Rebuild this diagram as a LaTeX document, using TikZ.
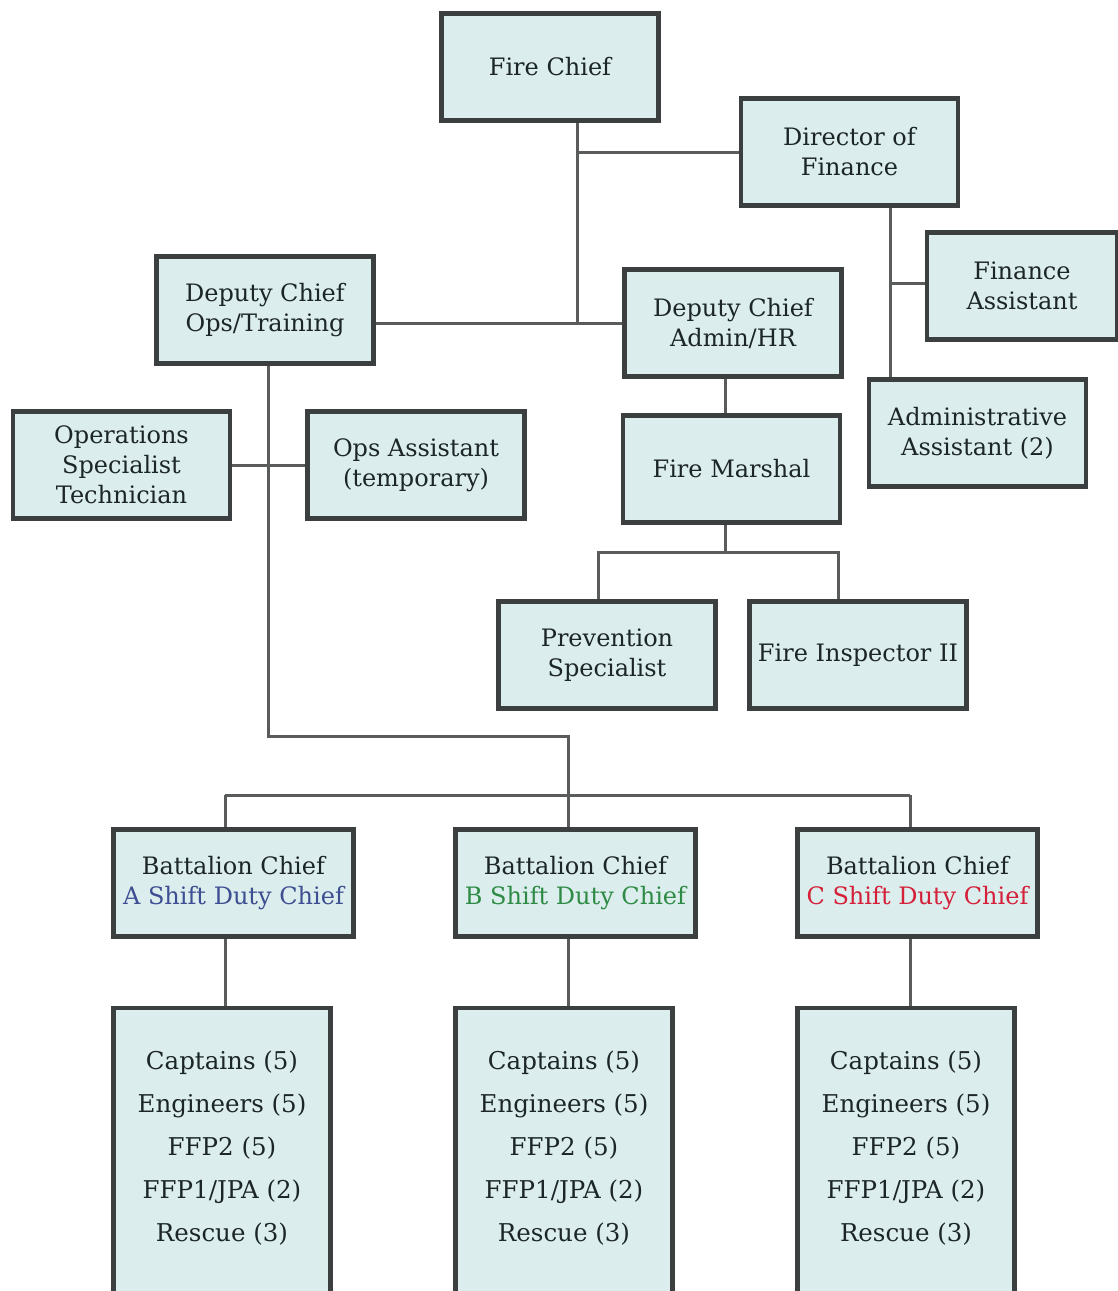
\documentclass[tikz,border=0pt]{standalone}
\usepackage{fontspec}
\setmainfont{DejaVu Serif}
\usetikzlibrary{backgrounds}
\definecolor{boxfill}{HTML}{DCEDED}
\definecolor{boxline}{HTML}{3C3F3F}
\definecolor{conn}{HTML}{5A5C5C}
\definecolor{txt}{HTML}{1C2626}
\definecolor{ablue}{HTML}{3E4E92}
\definecolor{bgreen}{HTML}{2E8B45}
\definecolor{cred}{HTML}{D42038}
\tikzset{
  orgbox/.style={draw=boxline, line width=4.5pt, fill=boxfill, text=txt,
    minimum width=217pt, minimum height=107pt, inner sep=2pt, align=center,
    font=\fontsize{24}{30}\selectfont},
  batbox/.style={orgbox, minimum width=240pt},
  crewbox/.style={orgbox, minimum height=300pt, font=\fontsize{24.5}{43}\selectfont},
  link/.style={draw=conn, line width=3pt}
}
\begin{document}
\begin{tikzpicture}[x=1pt,y=-1pt]
\useasboundingbox (0,0) rectangle (1118,1291);
\node[orgbox] (fc) at (550,67) {Fire Chief};
\node[orgbox] (dof) at (849.5,152) {Director of\\Finance};
\node[orgbox, minimum width=190pt] (fa) at (1022,286) {Finance\\Assistant};
\node[orgbox] (opst) at (265,310) {Deputy Chief\\Ops/Training};
\node[orgbox] (admin) at (733,323) {Deputy Chief\\Admin/HR};
\node[orgbox] (aa) at (977.5,433) {Administrative\\Assistant (2)};
\node[orgbox] (ost) at (121.5,465) {Operations\\Specialist\\Technician};
\node[orgbox] (oa) at (416,465) {Ops Assistant\\(temporary)};
\node[orgbox] (fm) at (731.5,469) {Fire Marshal};
\node[orgbox] (ps) at (607,655) {Prevention\\Specialist};
\node[orgbox] (fi) at (858,655) {Fire Inspector II};
\node[batbox] (ba) at (233.5,883) {Battalion Chief\\\textcolor{ablue}{A Shift Duty Chief}};
\node[batbox] (bb) at (575.5,883) {Battalion Chief\\\textcolor{bgreen}{B Shift Duty Chief}};
\node[batbox] (bc) at (917.5,883) {Battalion Chief\\\textcolor{cred}{C Shift Duty Chief}};
\node[crewbox] (ca) at (222,1158) {\parbox{210pt}{\centering Captains (5)\\Engineers (5)\\FFP2 (5)\\FFP1/JPA (2)\\Rescue (3)\par\vspace*{20pt}}};
\node[crewbox] (cb) at (564,1158) {\parbox{210pt}{\centering Captains (5)\\Engineers (5)\\FFP2 (5)\\FFP1/JPA (2)\\Rescue (3)\par\vspace*{20pt}}};
\node[crewbox] (cc) at (906,1158) {\parbox{210pt}{\centering Captains (5)\\Engineers (5)\\FFP2 (5)\\FFP1/JPA (2)\\Rescue (3)\par\vspace*{20pt}}};
\coordinate (j1) at (577,323);
\coordinate (j2) at (890,283);
\coordinate (j3) at (725,552);
\coordinate (j4) at (598,552);
\coordinate (j5) at (838,552);
\coordinate (j6) at (268,736);
\coordinate (j7) at (568,736);
\coordinate (j9) at (225,795);
\coordinate (j10) at (910,795);
\begin{scope}[on background layer]
\fill[white] (0,0) rectangle (1118,1291);
\draw[link] (fc.south -| j1) -- (j1);
\draw[link] (dof.west -| j1) -- (dof.west);
\draw[link] (opst.east |- j1) -- (admin.west |- j1);
\draw[link] (dof.south -| j2) -- (aa.north -| j2);
\draw[link] (j2) -- (fa.west |- j2);
\draw[link] (admin.south -| j3) -- (fm.north -| j3);
\draw[link] (fm.south -| j3) -- (j3);
\draw[link] (ps.north -| j4) -- (j4) -- (j5) -- (fi.north -| j5);
\draw[link] (opst.south -| j6) -- (j6) -- (j7) -- (bb.north -| j7);
\draw[link] (ost.east) -- (oa.west);
\draw[link] (j9) -- (j10);
\draw[link] (j9) -- (ba.north -| j9);
\draw[link] (j10) -- (bc.north -| j10);
\draw[link] (ba.south -| j9) -- (ca.north -| j9);
\draw[link] (bb.south -| j7) -- (cb.north -| j7);
\draw[link] (bc.south -| j10) -- (cc.north -| j10);
\end{scope}
\end{tikzpicture}
\end{document}
